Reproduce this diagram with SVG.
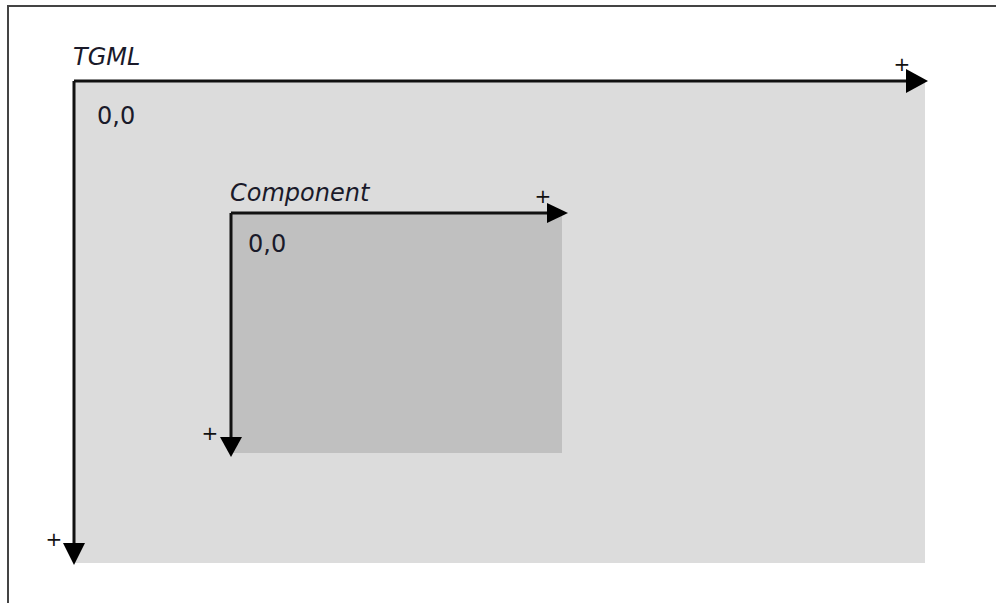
<svg xmlns="http://www.w3.org/2000/svg" width="996" height="603" viewBox="0 0 996 603">
<style>
.lbl{font-family:"DejaVu Sans",Verdana,sans-serif;font-size:24px;fill:#1a1a2a}
.it{font-style:italic}
.pl{font-family:"DejaVu Sans",Verdana,sans-serif;font-size:20px;fill:#111;text-anchor:middle}
.ax{stroke:#111;stroke-width:3;fill:none}
.hd{fill:#000}
</style>
<rect width="996" height="603" fill="#fff"/>
<path d="M8,603 V6 H996" fill="none" stroke="#444" stroke-width="2"/>
<g id="tgml">
<rect x="75" y="81" width="850" height="482" fill="#dcdcdc"/>
<text class="lbl it" x="73" y="65">TGML</text>
<text class="lbl" x="97" y="124">0,0</text>
</g>
<g id="component">
<rect x="231" y="213" width="331" height="240" fill="#c0c0c0"/>
<text class="lbl it" x="230" y="201">Component</text>
<text class="lbl" x="248" y="252">0,0</text>
</g>
<g id="connectors">
<path class="ax" d="M74,81 H908"/>
<polygon class="hd" points="906,69 928,81 906,93"/>
<path class="ax" d="M74,81 V545"/>
<polygon class="hd" points="63,543 85,543 74,565"/>
<path class="ax" d="M231,213 H549"/>
<polygon class="hd" points="547,203 568,213 547,223"/>
<path class="ax" d="M231,213 V439"/>
<polygon class="hd" points="220,437 242,437 231,457"/>
<text class="pl" x="902" y="71">+</text>
<text class="pl" x="543" y="203">+</text>
<text class="pl" x="210" y="440">+</text>
<text class="pl" x="54" y="546">+</text>
</g>
</svg>
